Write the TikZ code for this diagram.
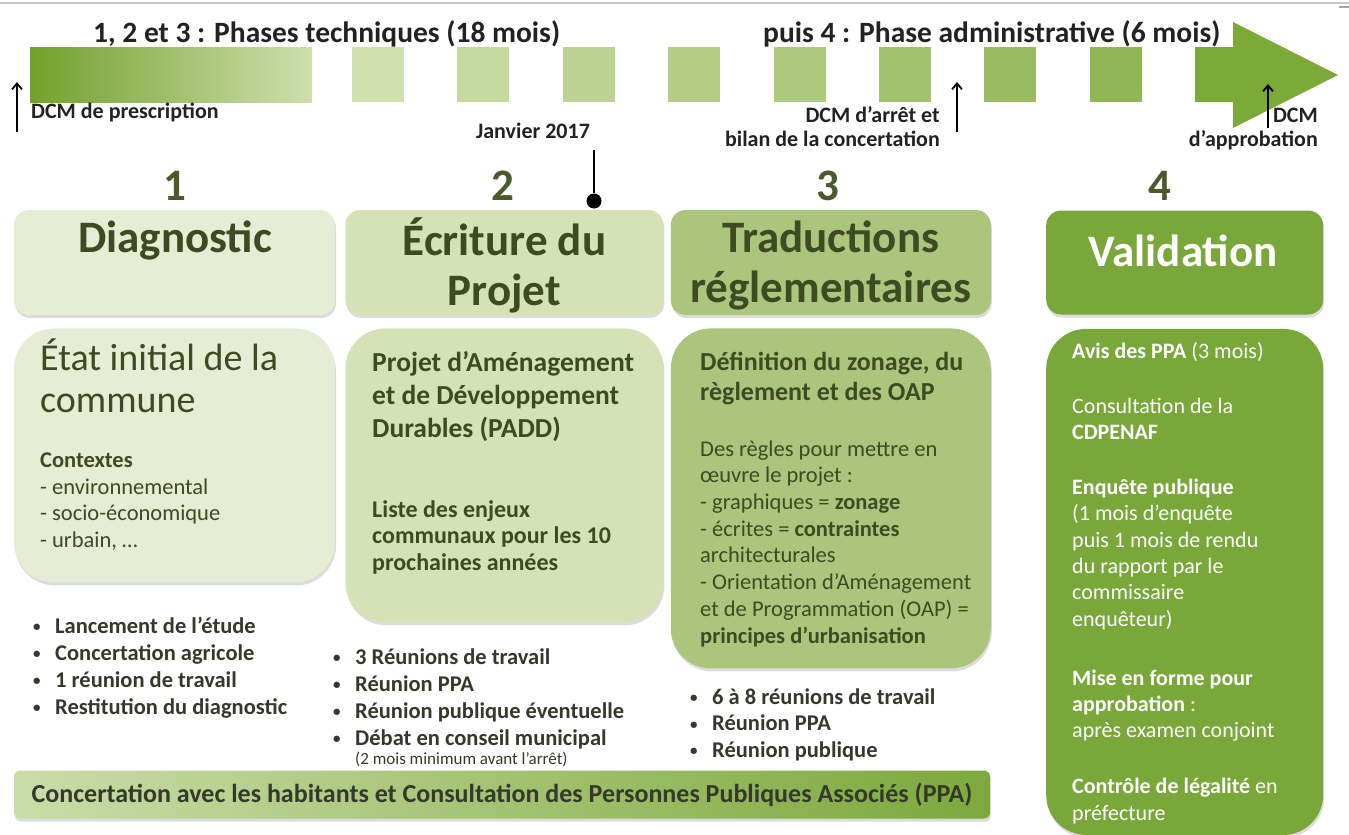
\documentclass[tikz,border=0pt]{standalone}
\usepackage{fontspec}
\setmainfont{Carlito}
\usepackage{xcolor}
\usepackage{tikz}
\usetikzlibrary{positioning,shadows,arrows.meta}

\definecolor{boxA}{HTML}{E6EDD5}
\definecolor{boxB}{HTML}{D4E2B5}
\definecolor{boxC}{HTML}{ABC57D}
\definecolor{boxD}{HTML}{79A73A}
\definecolor{olive}{HTML}{3D4A22}
\definecolor{numgreen}{HTML}{4A5A2C}
\definecolor{bardark}{HTML}{72A12C}
\definecolor{barmid}{HTML}{AFC985}
\definecolor{barlight}{HTML}{CFDFAE}
\definecolor{sqdark}{HTML}{7DAA3C}
\definecolor{arrowgreen}{HTML}{7BAA38}
\definecolor{banlight}{HTML}{CADCA9}
\definecolor{bandark}{HTML}{7CA93C}
\definecolor{txtdark}{HTML}{34392B}
\definecolor{headdark}{HTML}{222222}

\newcommand{\fsz}[2]{\fontsize{#1}{#2}\selectfont}
\newcommand{\puce}[1]{\makebox[22pt][l]{\raisebox{1.5pt}{\fsz{15}{15}\textbullet}}#1}

\begin{document}
\begin{tikzpicture}[x=1pt, y=-1pt,
        boxshadow/.style={drop shadow={shadow xshift=1pt, shadow yshift=-3pt, opacity=.28}},
        titlebox/.style={rectangle, rounded corners=15pt, minimum height=105pt, inner sep=0pt, boxshadow},
        bodybox/.style={rectangle, rounded corners=40pt, inner sep=0pt, boxshadow},
        titletxt/.style={font=\fsz{45}{50}\bfseries, text=olive, align=center, inner sep=0pt},
        numtxt/.style={font=\fsz{45}{50}\bfseries, text=numgreen, inner sep=0pt, anchor=base},
        headtxt/.style={font=\fsz{29.5}{34}\bfseries, text=headdark, inner sep=0pt, anchor=base west},
        dcmtxt/.style={font=\fsz{22}{24}\bfseries, text=headdark, inner sep=0pt},
        bodytxt/.style={font=\fsz{22.5}{26.5}, text=olive, align=left, inner sep=0pt, anchor=base west},
        bullettxt/.style={font=\fsz{22.5}{27}\bfseries, text=txtdark, align=left, inner sep=0pt, anchor=base west},
        uparrow/.style={line width=1.8pt, -{Straight Barb[length=6pt, width=10pt, line width=1.8pt]}}
    ]
        \useasboundingbox (0,0) rectangle (1349,835);
        \draw[gray!45, line width=1.5pt] (0,3) -- (1349,3);
        \draw[gray!70, line width=1.5pt] (1339,7) -- (1349,7);

        % frise chronologique
        \fill[left color=bardark, middle color=barmid, right color=barlight] (30,47) rectangle (312,102);
        \foreach \i in {0,...,7} {
            \pgfmathtruncatemacro\p{\i*11}
            \fill[sqdark!\p!barlight] ({352+105.4*\i},47) rectangle ++(52,55);
        }
        \fill[arrowgreen] (1195,47) -- (1233,47) -- (1233,22) -- (1338,75) -- (1233,128) -- (1233,102) -- (1195,102) -- cycle;

        \node[headtxt] (phase123) at (93,42) {1, 2 et 3 : Phases techniques (18 mois)};
        \node[headtxt] (phase4) at (763,42) {puis 4 : Phase administrative (6 mois)};

        % jalons
        \coordinate (presclow) at (17,132);
        \coordinate (preschigh) at (17,82);
        \coordinate (arretlow) at (957,132);
        \coordinate (arrethigh) at (957,82);
        \coordinate (approlow) at (1268,128);
        \coordinate (approhigh) at (1268,84);
        \draw[uparrow] (presclow) -- (preschigh);
        \draw[uparrow] (arretlow) -- (arrethigh);
        \draw[uparrow] (approlow) -- (approhigh);
        \node[dcmtxt, anchor=base west] (prescr) at (31,118) {DCM de prescription};
        \node[dcmtxt, anchor=base east, align=right] (arret) at (940,146) {DCM d’arrêt et\\bilan de la concertation};
        \node[dcmtxt, anchor=base east, align=right] (appro) at (1318,146) {DCM\\d’approbation};
        \node[dcmtxt, anchor=base] (janv) at (533,138) {Janvier 2017};

        \foreach \n/\x in {1/175, 2/503, 3/828, 4/1160}
            \node[numtxt] (num\n) at (\x,200) {\n};

        % phases
        \node[titlebox, fill=boxA, minimum width=321pt] (t1) at (174.5,262.5) {};
        \node[titlebox, fill=boxB, minimum width=318pt, right=10pt of t1] (t2) {};
        \node[titlebox, fill=boxC, minimum width=320pt, right=7pt of t2] (t3) {};
        \node[titlebox, fill=boxD, minimum width=277pt, minimum height=104pt, right=55pt of t3] (t4) {};

        \node[bodybox, fill=boxA, minimum width=321pt, minimum height=254pt, below=13pt of t1] (c1) {};
        \node[bodybox, fill=boxB, minimum width=318pt, minimum height=294pt, below=13pt of t2] (c2) {};
        \node[bodybox, fill=boxC, minimum width=320pt, minimum height=340pt, below=13pt of t3] (c3) {};
        \node[bodybox, fill=boxD, minimum width=277pt, minimum height=506pt, below=14pt of t4] (c4) {};

        \node[titletxt, anchor=base] (t1txt) at (175,252) {Diagnostic};
        \node[titletxt] (t2txt) at ([yshift=-3pt]t2.center) {Écriture du\\Projet};
        \node[titletxt] (t3txt) at ([yshift=-3pt]t3.center) {Traductions\\réglementaires};
        \node[titletxt, text=white, anchor=base] (t4txt) at (1183,266) {Validation};

        \coordinate (janvtop) at (594,150);
        \node[circle, fill=black, inner sep=0pt, minimum size=15pt] (janvdot) at (594,201) {};
        \draw[line width=1.5pt] (janvtop) -- (janvdot);

        % contenus (ancrés sur la derniere ligne)
        \node[bodytxt, font=\fsz{38}{42}] (c1head) at (40,412) {État initial de la\\commune};
        \node[bodytxt] (c1body) at (40,547) {\textbf{Contextes}\\- environnemental\\- socio-économique\\- urbain, …};

        \node[bodytxt, font=\fsz{27.5}{33}\bfseries] (c2head) at (372,437) {Projet d’Aménagement\\et de Développement\\Durables (PADD)};
        \node[bodytxt, font=\fsz{24}{26.5}\bfseries] (c2body) at (372,570) {Liste des enjeux\\communaux pour les 10\\prochaines années};

        \node[bodytxt, font=\fsz{26}{30}\bfseries] (c3head) at (700,400) {Définition du zonage, du\\règlement et des OAP};
        \node[bodytxt, font=\fsz{22.5}{26.7}] (c3body) at (700,643) {Des règles pour mettre en\\œuvre le projet :\\- graphiques = \textbf{zonage}\\- écrites = \textbf{contraintes}\\architecturales\\- Orientation d’Aménagement\\et de Programmation (OAP) =\\\textbf{principes d’urbanisation}};

        \node[bodytxt, font=\fsz{22}{26.3}, text=white] (c4body) at (1072,820) {\textbf{Avis des PPA} (3 mois)\\[28.7pt]Consultation de la\\\textbf{CDPENAF}\\[28.7pt]\textbf{Enquête publique}\\(1 mois d’enquête\\puis 1 mois de rendu\\du rapport par le\\commissaire\\enquêteur)\\[32.7pt]\textbf{Mise en forme pour}\\\textbf{approbation} :\\après examen conjoint\\[29.7pt]\textbf{Contrôle de légalité} en\\préfecture};

        % réunions
        \node[bullettxt] (list1) at (33,714) {\puce{Lancement de l’étude}\\\puce{Concertation agricole}\\\puce{1 réunion de travail}\\\puce{Restitution du diagnostic}};
        \node[bullettxt] (list2) at (333,745) {\puce{3 Réunions de travail}\\\puce{Réunion PPA}\\\puce{Réunion publique éventuelle}\\\puce{Débat en conseil municipal}};
        \node[bullettxt, font=\fsz{17}{20}\mdseries] (list2note) at (355,764) {(2 mois minimum avant l’arrêt)};
        \node[bullettxt, font=\fsz{22.5}{26.5}\bfseries] (list3) at (690,757) {\puce{6 à 8 réunions de travail}\\\puce{Réunion PPA}\\\puce{Réunion publique}};

        \node[rectangle, rounded corners=6pt, minimum width=976pt, minimum height=48pt, left color=banlight, right color=bandark, boxshadow, font=\fsz{26}{30}\bfseries, text=txtdark] (ppa) at (502,794.5) {Concertation avec les habitants et Consultation des Personnes Publiques Associés (PPA)};
    \end{tikzpicture}
\end{document}
